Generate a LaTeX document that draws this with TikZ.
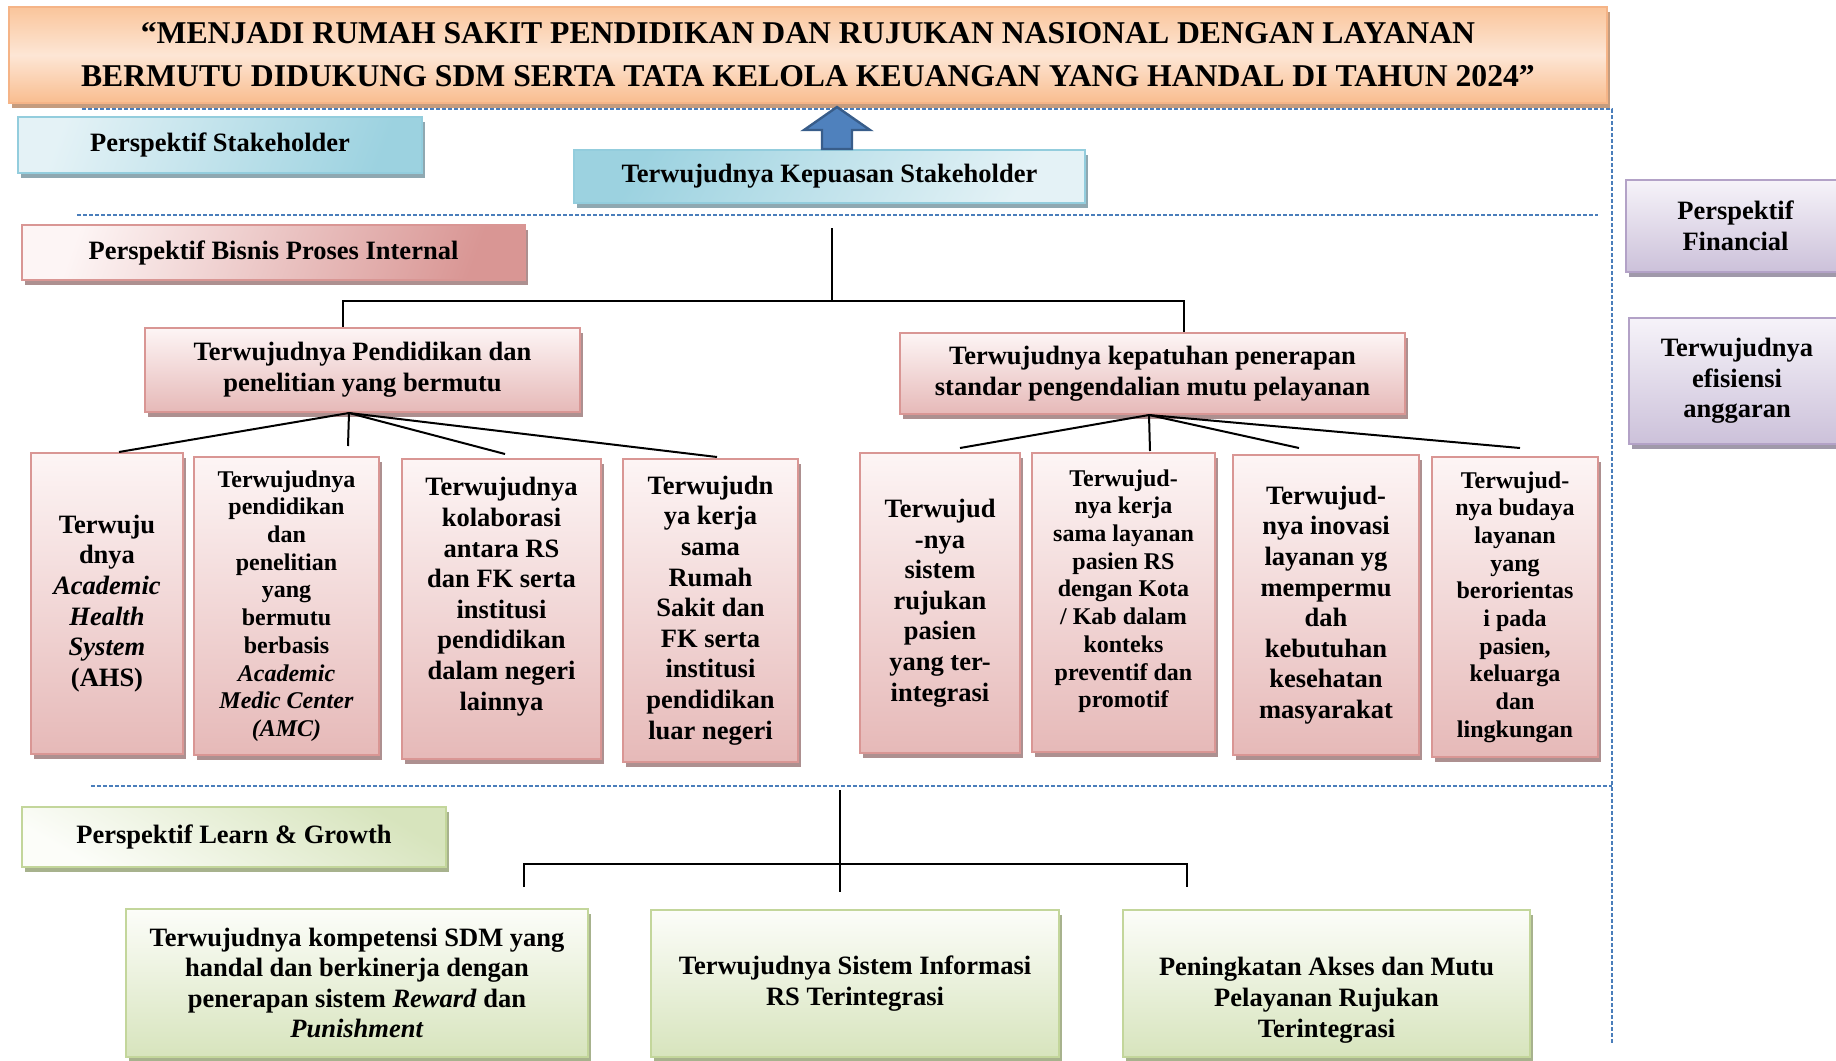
\documentclass[tikz,border=0pt]{standalone}
\usepackage{fontspec}
\setmainfont{Liberation Serif}
\usepackage{tikz}
\usetikzlibrary{calc,shadows}

\definecolor{orngTop}{HTML}{FAC59B}
\definecolor{orngMid}{HTML}{FDE6D5}
\definecolor{orngBot}{HTML}{F9BD8F}
\definecolor{orngLine}{HTML}{F5B487}
\definecolor{orngSh}{HTML}{C59C7E}
\definecolor{cyanL}{HTML}{E4F2F6}
\definecolor{cyanD}{HTML}{9CD2E0}
\definecolor{cyanLine}{HTML}{93CDDD}
\definecolor{cyanSh}{HTML}{8FA8B1}
\definecolor{pinkTop}{HTML}{FDF5F5}
\definecolor{pinkBot}{HTML}{E6B9B8}
\definecolor{pinkDeep}{HTML}{D99694}
\definecolor{pinkLine}{HTML}{D99694}
\definecolor{pinkSh}{HTML}{AD9090}
\definecolor{greenTop}{HTML}{FCFDF9}
\definecolor{greenBot}{HTML}{D7E4BD}
\definecolor{greenLine}{HTML}{C3D69B}
\definecolor{greenSh}{HTML}{A7B28D}
\definecolor{purpTop}{HTML}{F6F3F9}
\definecolor{purpBot}{HTML}{CCC1DA}
\definecolor{purpLine}{HTML}{B3A2C7}
\definecolor{purpSh}{HTML}{A099AA}
\definecolor{sepBlue}{HTML}{4A7EBB}
\definecolor{arrowFill}{HTML}{4F81BD}
\definecolor{arrowLine}{HTML}{385D8A}

\begin{document}
\begin{tikzpicture}[
x=0.5pt, y=-0.5pt,
sz/.style 2 args={minimum width=#1, minimum height=#2},
sh/.style={drop shadow={shadow xshift=1.5pt, shadow yshift=-2.5pt, opacity=1, fill=#1}},
box/.style={rectangle, inner sep=0pt, align=center, line width=1pt, font=\bfseries\fontsize{13.25pt}{15.3pt}\selectfont},
small/.style={font=\bfseries\fontsize{12pt}{13.85pt}\selectfont},
visibox/.style={box, draw=orngLine, top color=orngTop, bottom color=orngBot, middle color=orngMid, sh=orngSh, font=\bfseries\fontsize{15.85pt}{21.5pt}\selectfont},
cyanbox/.style={box, draw=cyanLine, sh=cyanSh},
pinkbox/.style={box, draw=pinkLine, top color=pinkTop, bottom color=pinkBot, sh=pinkSh},
greenbox/.style={box, draw=greenLine, top color=greenTop, bottom color=greenBot, sh=greenSh},
purplebox/.style={box, draw=purpLine, top color=purpTop, bottom color=purpBot, sh=purpSh},
conn/.style={draw=black, line width=1pt},
conn2/.style={draw=black, line width=1.25pt},
sepline/.style={draw=sepBlue, line width=0.75pt, dash pattern=on 2pt off 1pt},
uparrow/.style={fill=arrowFill, draw=arrowLine, line width=1.2pt, line join=miter}
]
\useasboundingbox (0,0) rectangle (1836,1060);

\draw[sepline] (82,109) -- (1612,109) -- (1612,1043);
\draw[sepline] (77,215) -- (1598,215);
\draw[sepline] (91,786) -- (1612,786);

\node[visibox, sz={799pt}{48pt}] (visi) at (808,55) {“MENJADI RUMAH SAKIT PENDIDIKAN DAN RUJUKAN NASIONAL DENGAN LAYANAN\\BERMUTU DIDUKUNG SDM SERTA TATA KELOLA KEUANGAN YANG HANDAL DI TAHUN 2024”};

\node[cyanbox, left color=cyanL, right color=cyanD, shading angle=70, sz={202pt}{28pt}] (pstake) at (220,145) {Perspektif Stakeholder};
\node[cyanbox, left color=cyanD, right color=cyanL, shading angle=60, sz={255.5pt}{26.5pt}] (kepuasan) at (829.5,176.5) {Terwujudnya Kepuasan Stakeholder};
\node[box, draw=pinkLine, left color=pinkTop, right color=pinkDeep, shading angle=70, sh=pinkSh, sz={251.5pt}{27.5pt}] (pbisnis) at (273.5,252.5) {Perspektif Bisnis Proses Internal};

\node[pinkbox, sz={217.5pt}{42pt}] (pend) at (362.5,370) {Terwujudnya Pendidikan dan\\penelitian yang bermutu};
\node[pinkbox, sz={252.5pt}{40.5pt}] (kepat) at (1152.5,373.5) {Terwujudnya kepatuhan penerapan\\standar pengendalian mutu pelayanan};

\node[pinkbox, sz={76pt}{150.5pt}] (c1) at (107,603.5) {Terwuju\\dnya\\\textit{Academic}\\\textit{Health}\\\textit{System}\\(AHS)};
\node[pinkbox, small, sz={92.5pt}{149pt}] (c2) at (286.5,606) {Terwujudnya\\pendidikan\\dan\\penelitian\\yang\\bermutu\\berbasis\\\textit{Academic}\\\textit{Medic Center}\\\textit{(AMC)}};
\node[pinkbox, sz={99.5pt}{150pt}] (c3) at (501.5,609) {Terwujudnya\\kolaborasi\\antara RS\\dan FK serta\\institusi\\pendidikan\\dalam negeri\\lainnya\\~};
\node[pinkbox, sz={87.5pt}{151.5pt}] (c4) at (710.5,610.5) {Terwujudn\\ya kerja\\sama\\Rumah\\Sakit dan\\FK serta\\institusi\\pendidikan\\luar negeri};

\node[pinkbox, sz={80pt}{150pt}] (d1) at (940,603) {Terwujud\\-nya\\sistem\\rujukan\\pasien\\yang ter-\\integrasi};
\node[pinkbox, small, sz={91.5pt}{149.5pt}] (d2) at (1123.5,602.5) {Terwujud-\\nya kerja\\sama layanan\\pasien RS\\dengan Kota\\/ Kab dalam\\konteks\\preventif dan\\promotif\\~};
\node[pinkbox, sz={93pt}{150pt}] (d3) at (1326,605) {Terwujud-\\nya inovasi\\layanan yg\\mempermu\\dah\\kebutuhan\\kesehatan\\masyarakat};
\node[pinkbox, small, sz={83pt}{150pt}] (d4) at (1515,607) {Terwujud-\\nya budaya\\layanan\\yang\\berorientas\\i pada\\pasien,\\keluarga\\dan\\lingkungan};

\node[purplebox, sz={109.5pt}{46pt}] (pfin) at (1735.5,226) {Perspektif\\Financial};
\node[purplebox, sz={108pt}{63pt}] (efisiensi) at (1737,381) {Terwujudnya\\efisiensi\\anggaran};

\node[greenbox, left color=greenTop, right color=greenBot, shading angle=150, sz={212pt}{30pt}] (plearn) at (234,837) {Perspektif Learn \& Growth};
\node[greenbox, sz={231pt}{74pt}] (g1) at (357,983) {Terwujudnya kompetensi SDM yang\\handal dan berkinerja dengan\\penerapan sistem \textit{Reward} dan\\\textit{Punishment}};
\node[greenbox, sz={204pt}{73.5pt}] (g2) at (855,983.5) {Terwujudnya Sistem Informasi\\RS Terintegrasi};
\node[greenbox, sz={203.5pt}{73.5pt}] (g3) at (1326.5,983.5) {\strut\\Peningkatan Akses dan Mutu\\Pelayanan Rujukan\\Terintegrasi};

\draw[uparrow] ($(kepuasan.north)+(-7.5,0)$) -- ++(0,-19) -- ++(-18,0) -- ++(33,-23) -- ++(33,23) -- ++(-18,0) -- ++(0,19) -- cycle;

\coordinate (bizTop) at (832,228);
\coordinate (bizJoin) at (832,301);
\draw[conn] (bizTop) -- (bizJoin);
\draw[conn] (bizJoin) -| ($(pend.north)+(-19.5,0)$);
\draw[conn] (bizJoin) -| ($(kepat.north)+(31.5,0)$);

\coordinate (pendFan) at ($(pend.south)+(-13.5,0)$);
\draw[conn] (pendFan) -- ($(c1.north)+(12,0)$);
\draw[conn] (pendFan) -- ($(c2.north)+(61.5,-10)$);
\draw[conn] (pendFan) -- ($(c3.north)+(3.5,-4)$);
\draw[conn] (pendFan) -- ($(c4.north)+(6.5,-1)$);

\coordinate (kepatFan) at ($(kepat.south)+(-3.5,0)$);
\draw[conn] (kepatFan) -- ($(d1.north)+(20,-4)$);
\draw[conn] (kepatFan) -- ($(d2.north)+(26.5,-1)$);
\draw[conn] (kepatFan) -- ($(d3.north)+(-27,-6)$);
\draw[conn] (kepatFan) -- ($(d4.north)+(5,-8)$);

\coordinate (learnTop) at (840,790);
\coordinate (learnJoin) at (840,864);
\coordinate (learnEnd) at (840,892);
\draw[conn2] (learnTop) -- (learnEnd);
\draw[conn2] ($(g1.north)+(167,-21)$) |- (learnJoin) -| ($(g3.north)+(-139.5,-22)$);
\end{tikzpicture}
\end{document}
